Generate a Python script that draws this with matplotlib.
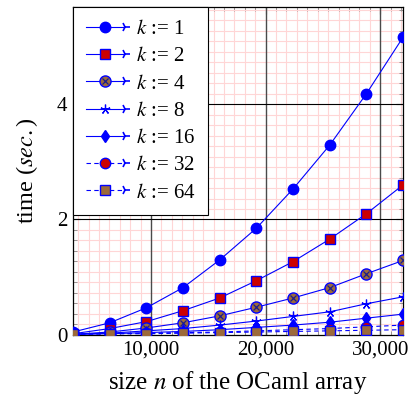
import matplotlib
matplotlib.use("Agg")
import matplotlib.pyplot as plt
from matplotlib.lines import Line2D
from matplotlib.legend_handler import HandlerLine2D
from matplotlib.ticker import FixedLocator

plt.rcParams['font.family'] = 'Liberation Serif'
plt.rcParams['mathtext.fontset'] = 'stix'

# tamaños del array (eje x)
n = [3200, 6400, 9600, 12800, 16000, 19200, 22400, 25600, 28800, 32000]

# tiempos (segundos) para cada k
t_k1 = [0.05, 0.21, 0.47, 0.82, 1.30, 1.85, 2.53, 3.29, 4.18, 5.16]
t_k2 = [0.02, 0.11, 0.23, 0.42, 0.64, 0.94, 1.27, 1.66, 2.10, 2.60]
t_k4 = [0.01, 0.05, 0.12, 0.21, 0.33, 0.48, 0.64, 0.82, 1.06, 1.29]
t_k8 = [0.01, 0.03, 0.07, 0.11, 0.17, 0.24, 0.32, 0.40, 0.54, 0.66]
t_k16 = [0.01, 0.02, 0.04, 0.06, 0.09, 0.13, 0.17, 0.22, 0.29, 0.36]
t_k32 = [0.01, 0.02, 0.03, 0.04, 0.05, 0.07, 0.09, 0.11, 0.14, 0.17]
t_k64 = [0.01, 0.02, 0.02, 0.03, 0.04, 0.05, 0.06, 0.07, 0.08, 0.09]

etiquetas = [r'$k$ := 1', r'$k$ := 2', r'$k$ := 4', r'$k$ := 8',
             r'$k$ := 16', r'$k$ := 32', r'$k$ := 64']
xticks = [10000, 20000, 30000]
xtick_labels = ['10,000', '20,000', '30,000']
yticks = [0, 2, 4]

azul = '#0000ff'
rojo = '#cc0000'
marron = '#9c6a3a'


# Manejador de leyenda: linea + marcador + punta de flecha
class HandlerFlecha(HandlerLine2D):
    def create_artists(self, legend, orig_handle, xdescent, ydescent,
                       width, height, fontsize, trans):
        artistas = super().create_artists(legend, orig_handle, xdescent, ydescent,
                                          width, height, fontsize, trans)
        y = height / 2 - ydescent
        punta = Line2D([width - xdescent], [y], marker='4', color=azul,
                       markersize=7, markeredgewidth=1.2, transform=trans)
        artistas.append(punta)
        return artistas


fig = plt.figure(figsize=(4.13, 4.03), dpi=100)
ax = fig.add_axes([0.177, 0.169, 0.799, 0.814])

estilos = [
    dict(marker='o', mfc=azul, mec=azul, ms=7.5, ls='-'),
    dict(marker='s', mfc=rojo, mec=azul, ms=7, ls='-'),
    dict(marker='o', mfc=marron, mec=azul, ms=8, ls='-'),   # circulo con cruz
    dict(marker=(5, 2, 0), mfc='none', mec=azul, ms=7, ls='-', mew=0.9),
    dict(marker='d', mfc=azul, mec=azul, ms=6.5, ls='-'),
    dict(marker='o', mfc=rojo, mec=azul, ms=7.5, ls=(0, (4, 3))),
    dict(marker='s', mfc=marron, mec=azul, ms=7, ls=(0, (4, 3))),
]
series = [t_k1, t_k2, t_k4, t_k8, t_k16, t_k32, t_k64]

for i, (t, est, lab) in enumerate(zip(series, estilos, etiquetas)):
    ax.plot(n, t, color=azul, lw=0.8, label=lab, zorder=3 + i, **est)
    if i == 2:
        # cruz dentro del circulo (otimes)
        ax.plot(n, t, ls='none', marker='x', mec='#1c1c8c', ms=5, mew=0.9,
                zorder=3 + i)


# leyenda con cruz para k=4
class HandlerOtimes(HandlerFlecha):
    def create_artists(self, legend, orig_handle, xdescent, ydescent,
                       width, height, fontsize, trans):
        artistas = super().create_artists(legend, orig_handle, xdescent, ydescent,
                                          width, height, fontsize, trans)
        y = height / 2 - ydescent
        cruz = Line2D([(width - xdescent) / 2 - xdescent / 2], [y], marker='x',
                      color='#1c1c8c', markersize=5, markeredgewidth=0.9,
                      transform=trans)
        artistas.append(cruz)
        return artistas


h = [Line2D([], [], color=azul, lw=0.8, label=lab, **est)
     for est, lab in zip(estilos, etiquetas)]
hmap = {l: HandlerFlecha(numpoints=1) for l in h}
hmap[h[2]] = HandlerOtimes(numpoints=1)

leg = ax.legend(handles=h, loc='upper left', fontsize=15, frameon=True,
                fancybox=False, edgecolor='black', framealpha=1,
                handlelength=1.9, handletextpad=0.5, labelspacing=0.37,
                borderaxespad=0.0, borderpad=0.6,
                handler_map=hmap)
leg.get_frame().set_linewidth(0.8)
leg.set_zorder(20)

ax.set_xlim(3200, 32000)
ax.set_ylim(0, 5.685)

# 10 subdivisiones menores entre marcas mayores (sin repetir las mayores)
x_menores = [m * 10000 / 11 for m in range(0, 40) if m % 11 != 0]
y_menores = [m * 2 / 11 for m in range(0, 40) if m % 11 != 0]

ax.xaxis.set_major_locator(FixedLocator(xticks))
ax.set_xticklabels(xtick_labels)
ax.yaxis.set_major_locator(FixedLocator(yticks))
ax.xaxis.set_minor_locator(FixedLocator(x_menores))
ax.yaxis.set_minor_locator(FixedLocator(y_menores))

# rejilla menor rosa (debajo) y rejilla mayor encima
ax.grid(which='minor', color='#ffd6d6', lw=0.8)
ax.set_axisbelow(True)
for xv in xticks:
    ax.axvline(xv, color='#4a4a4a', lw=1.0, zorder=1)
for yv in yticks[1:]:
    ax.axhline(yv, color='#000000', lw=0.8, zorder=1)

ax.tick_params(which='both', direction='in', top=True, right=True,
               labelsize=15, pad=4)
ax.tick_params(which='major', length=5, color='#444444')
ax.tick_params(which='minor', length=3, color='#888888')

for s in ax.spines.values():
    s.set_linewidth(0.9)

ax.set_xlabel(r'size $n$ of the OCaml array', fontsize=18, labelpad=7)
ax.set_ylabel(r'time ($sec.$)', fontsize=17.5, labelpad=12)

fig.savefig('out.png', dpi=100)
